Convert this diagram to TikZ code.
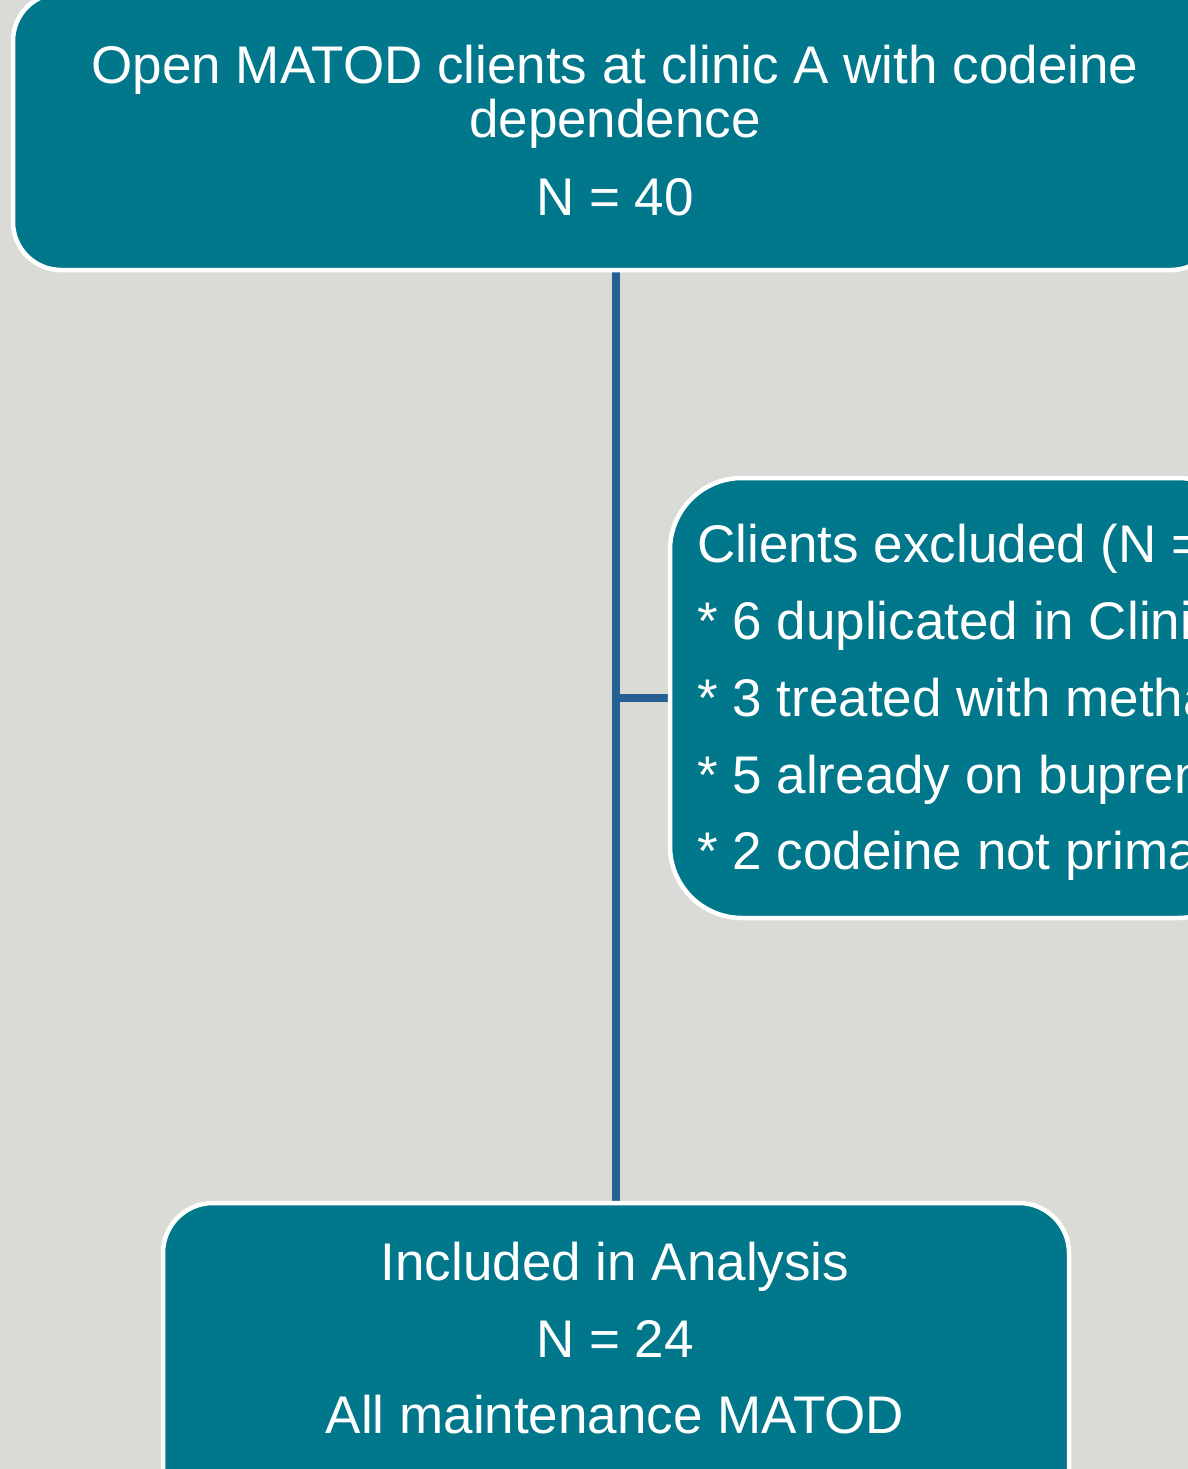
\documentclass[tikz,border=0pt]{standalone}
\usepackage{fontspec}
\setmainfont{Liberation Sans}
\usetikzlibrary{backgrounds}
\definecolor{bgcol}{RGB}{218,218,214}
\definecolor{tealbox}{RGB}{0,119,138}
\definecolor{linkblue}{RGB}{38,96,146}
\begin{document}
\begin{tikzpicture}[x=1pt,y=-1pt,
  box/.style={rectangle, draw=white, line width=4.5pt, fill=tealbox, rounded corners=#1, inner sep=0pt},
  txt/.style={text=white, inner sep=0pt, font=\fontsize{53}{60}\selectfont},
  link/.style={draw=linkblue, line width=8pt}]
\useasboundingbox (0,0) rectangle (1188,1469);
\clip (0,0) rectangle (1188,1469);
% boxes
\node[box=48pt, minimum width=1206pt, minimum height=277pt] (top) at (616,131.5) {};
\node[box=72pt, minimum width=580pt, minimum height=440pt] (excl) at (960,698) {};
\node[box=50pt, minimum width=906pt, minimum height=317pt] (bot) at (616,1361.5) {};
% texts
\node[txt, anchor=base] (t1) at (615,84) {Open MATOD clients at clinic A with codeine};
\node[txt, anchor=base] (t2) at (615,138) {dependence};
\node[txt, anchor=base] (t3) at (615,215) {N = 40};
\node[txt, anchor=base west] (e1) at (697,562) {Clients excluded (N =};
\node[txt, anchor=base west] (e2) at (697,639) {* 6 duplicated in Clini};
\node[txt, anchor=base west] (e3) at (697,716) {* 3 treated with metha};
\node[txt, anchor=base west] (e4) at (697,793) {* 5 already on bupren};
\node[txt, anchor=base west] (e5) at (697,869) {* 2 codeine not prima};
\node[txt, anchor=base] (b1) at (615,1280) {Included in Analysis};
\node[txt, anchor=base] (b2) at (615,1357) {N = 24};
\node[txt, anchor=base] (b3) at (615,1433) {All maintenance MATOD};
% connectors and background
\begin{scope}[on background layer]
  \fill[bgcol] (0,0) rectangle (1188,1469);
  \draw[link] (top.south) -- (bot.north);
  \draw[link] (top.south |- excl.west) -- (excl.west);
\end{scope}
\end{tikzpicture}
\end{document}
